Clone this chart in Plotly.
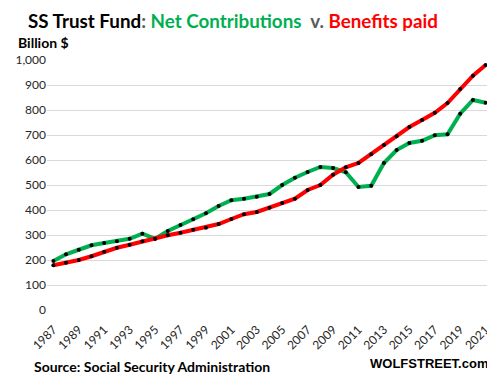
import plotly.graph_objects as go

years = list(range(1987, 2022))
net_contributions = [196, 223, 241, 259, 268, 275, 285, 305, 285, 316,
                     340, 363, 387, 416, 439, 445, 453, 464, 500, 529,
                     552, 572, 568, 551, 492, 497, 588, 640, 668, 677,
                     699, 703, 785, 840, 829]
benefits_paid = [179, 189, 200, 215, 233, 249, 261, 275, 285, 299,
                 309, 321, 329, 344, 364, 383, 392, 409, 428, 445,
                 480, 500, 541, 571, 588, 623, 660, 695, 732, 760,
                 789, 828, 884, 937, 980]
x_ticks = list(range(1987, 2022, 2))
y_ticks = [0, 100, 200, 300, 400, 500, 600, 700, 800, 900, 1000]

GREEN = "#00B050"
RED = "#FF0000"
FONT = "Lato"

fig = go.Figure()
fig.add_trace(go.Scatter(x=years, y=net_contributions, mode="lines+markers",
                         line=dict(color=GREEN, width=4),
                         marker=dict(color="black", size=4),
                         name="Net Contributions", hoverinfo="x+y"))
fig.add_trace(go.Scatter(x=years, y=benefits_paid, mode="lines+markers",
                         line=dict(color=RED, width=4),
                         marker=dict(color="black", size=4),
                         name="Benefits paid", hoverinfo="x+y"))

W, H = 445, 250  # plot area size in px

fig.update_layout(
    width=495, height=383,
    margin=dict(l=39, r=11, t=52, b=81, autoexpand=False),
    paper_bgcolor="white", plot_bgcolor="white",
    showlegend=False,
    font=dict(family=FONT, color="#262626"),
    xaxis=dict(range=[1986.5, 2021.5], tickmode="array", tickvals=x_ticks,
               ticktext=[str(v) for v in x_ticks], tickangle=-45,
               showgrid=False, zeroline=False, showline=False, automargin=False,
               ticks="outside", ticklen=7, tickcolor="rgba(0,0,0,0)",
               tickfont=dict(size=12, family=FONT, color="#262626")),
    yaxis=dict(range=[0, 1000], tickmode="array", tickvals=y_ticks,
               ticktext=[f"{v:,}" for v in y_ticks],
               showgrid=True, gridcolor="#d9d9d9", gridwidth=1, automargin=False,
               zeroline=False, showline=False, ticks="",
               tickfont=dict(size=12, family=FONT, color="#262626")),
    annotations=[
        dict(xref="paper", yref="paper", x=-21/W, y=290/H,
             xanchor="left", yanchor="middle", showarrow=False, align="left",
             text=("<b>SS Trust Fund<span style='color:#595959'>:</span> "
                   f"<span style='color:{GREEN}'>Net Contributions</span>&nbsp; "
                   "<span style='color:#595959'>v.</span> "
                   f"<span style='color:{RED}'>Benefits paid</span></b>"),
             font=dict(size=18.8, family=FONT, color="black")),
        dict(xref="paper", yref="paper", x=-31/W, y=267/H,
             xanchor="left", yanchor="middle", showarrow=False, align="left",
             text="<b>Billion $</b>", font=dict(size=14, family=FONT, color="black")),
        dict(xref="paper", yref="paper", x=-15/W, y=-56/H,
             xanchor="left", yanchor="middle", showarrow=False, align="left",
             text="<b>Source: Social Security Administration</b>",
             font=dict(size=14, family=FONT, color="black")),
        dict(xref="paper", yref="paper", x=443/W, y=-53/H,
             xanchor="right", yanchor="middle", showarrow=False, align="right",
             text="<b>WOLFSTREET.com</b>",
             font=dict(size=13, family="Liberation Sans", color="black")),
    ],
)

fig.write_html("out.html")
